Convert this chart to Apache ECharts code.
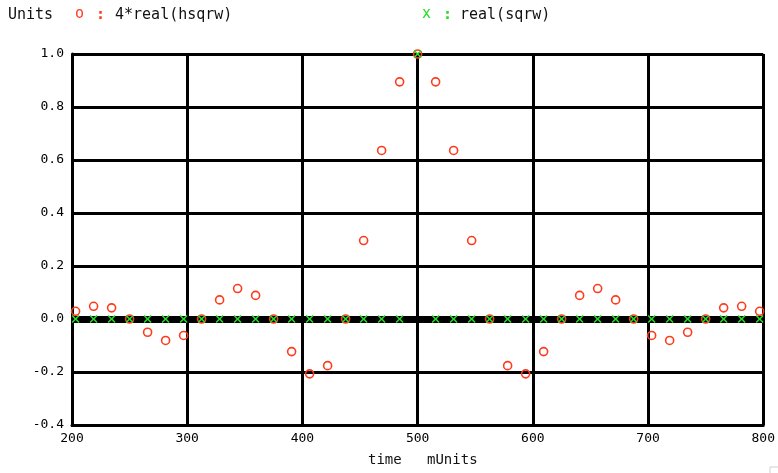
<!DOCTYPE html>
<html>
<head>
<meta charset="utf-8">
<script src="https://cdn.jsdelivr.net/npm/echarts@6/dist/echarts.min.js"></script>
<style>
  html, body { margin: 0; padding: 0; background: #fff; }
  #chart { width: 778px; height: 473px; }
</style>
</head>
<body>
<div id="chart"></div>
<script>
// Sample times (mUnits)
var timeValues = [
  203.125, 218.75, 234.375, 250, 265.625, 281.25, 296.875, 312.5, 328.125, 343.75,
  359.375, 375, 390.625, 406.25, 421.875, 437.5, 453.125, 468.75, 484.375, 500,
  515.625, 531.25, 546.875, 562.5, 578.125, 593.75, 609.375, 625, 640.625, 656.25,
  671.875, 687.5, 703.125, 718.75, 734.375, 750, 765.625, 781.25, 796.875
];
// 4*real(hsqrw)
var hsqrwValues = [
  0.029, 0.048, 0.042, 0, -0.050, -0.081, -0.062, 0, 0.072, 0.115,
  0.089, 0, -0.123, -0.207, -0.176, 0, 0.296, 0.636, 0.895, 1.0,
  0.895, 0.636, 0.296, 0, -0.176, -0.207, -0.123, 0, 0.089, 0.115,
  0.072, 0, -0.062, -0.081, -0.050, 0, 0.042, 0.048, 0.029
];
// real(sqrw)
var sqrwValues = [
  0, 0, 0, 0, 0, 0, 0, 0, 0, 0,
  0, 0, 0, 0, 0, 0, 0, 0, 0, 1.0,
  0, 0, 0, 0, 0, 0, 0, 0, 0, 0,
  0, 0, 0, 0, 0, 0, 0, 0, 0
];
var xTicks = { min: 200, max: 800, step: 100 };
var yTicks = { min: -0.4, max: 1.0, step: 0.2 };

var MONO = '"DejaVu Sans Mono", "Liberation Mono", monospace';
var RED = '#ff3a1c';
var GREEN = '#22dd22';
// filled cross outline used as the "x" marker
var CROSS = 'path://M0,1.4L1.4,0L5,3.6L8.6,0L10,1.4L6.4,5L10,8.6L8.6,10L5,6.4L1.4,10L0,8.6L3.6,5Z';

function pairs(xs, ys) {
  return xs.map(function (x, i) { return [x, ys[i]]; });
}

var chart = echarts.init(document.getElementById('chart'), null, { renderer: 'canvas' });

chart.setOption({
  animation: false,
  backgroundColor: '#ffffff',
  grid: { left: 72, right: 14, top: 54, bottom: 48 },
  xAxis: {
    type: 'value',
    min: xTicks.min, max: xTicks.max, interval: xTicks.step,
    axisLine: { show: true, onZero: false, lineStyle: { color: '#000', width: 3 } },
    axisTick: { show: false },
    splitLine: { show: true, lineStyle: { color: '#000', width: 3 } },
    axisLabel: { margin: 7, color: '#000', fontFamily: MONO, fontSize: 13 }
  },
  yAxis: {
    type: 'value',
    min: yTicks.min, max: yTicks.max, interval: yTicks.step,
    axisLine: { show: true, lineStyle: { color: '#000', width: 3 } },
    axisTick: { show: false },
    splitLine: { show: true, lineStyle: { color: '#000', width: 3 } },
    axisLabel: {
      margin: 8, color: '#000', fontFamily: MONO, fontSize: 13,
      formatter: function (v) { return v.toFixed(1); }
    }
  },
  series: [
    {
      // heavy zero baseline, kept beneath the markers
      type: 'scatter', data: [], z: 1, silent: true,
      markLine: {
        z: 1, silent: true, symbol: 'none', label: { show: false },
        lineStyle: { color: '#000', width: 7, type: 'solid' },
        data: [{ yAxis: 0 }]
      }
    },
    {
      name: '4*real(hsqrw)',
      type: 'scatter', z: 3,
      symbol: 'circle', symbolSize: 8,
      itemStyle: { color: 'rgba(0,0,0,0)', borderColor: RED, borderWidth: 1.6, opacity: 1 },
      data: pairs(timeValues, hsqrwValues)
    },
    {
      name: 'real(sqrw)',
      type: 'scatter', z: 4,
      symbol: CROSS, symbolSize: 8,
      itemStyle: { color: GREEN, opacity: 1 },
      data: pairs(timeValues, sqrwValues)
    }
  ],
  graphic: [
    { type: 'text', left: 8, top: 8, style: { text: 'Units', font: '15px ' + MONO, fill: '#111' } },
    { type: 'text', left: 75, top: 7, style: { text: 'o', font: '15px ' + MONO, fill: RED } },
    { type: 'text', left: 96, top: 8, style: { text: ':', font: 'bold 15px ' + MONO, fill: RED } },
    { type: 'text', left: 115, top: 8, style: { text: '4*real(hsqrw)', font: '15px ' + MONO, fill: '#111' } },
    { type: 'text', left: 422, top: 7, style: { text: 'x', font: '15px ' + MONO, fill: GREEN } },
    { type: 'text', left: 443, top: 8, style: { text: ':', font: 'bold 15px ' + MONO, fill: GREEN } },
    { type: 'text', left: 460, top: 8, style: { text: 'real(sqrw)', font: '15px ' + MONO, fill: '#111' } },
    { type: 'text', left: 368, top: 453, style: { text: 'time   mUnits', font: '14px ' + MONO, fill: '#111' } },
    {
      type: 'polyline', silent: true,
      shape: { points: [[770, 473], [770, 467], [778, 467]] },
      style: { stroke: '#d0d0d0', lineWidth: 1, fill: null }
    }
  ]
});
</script>
</body>
</html>
